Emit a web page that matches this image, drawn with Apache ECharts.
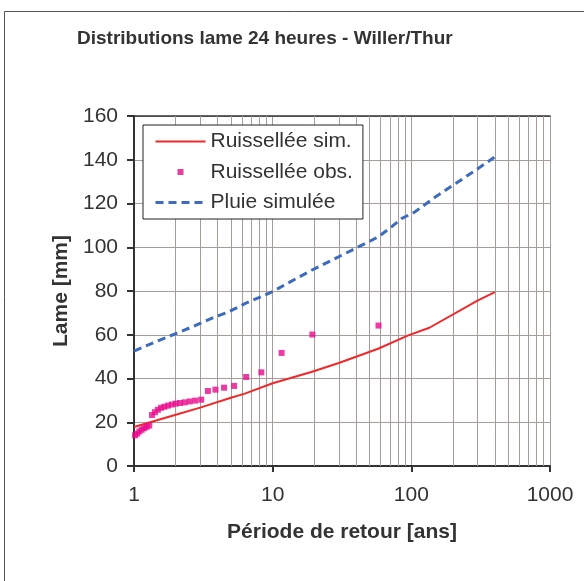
<!DOCTYPE html>
<html>
<head>
<meta charset="utf-8">
<script src="https://cdn.jsdelivr.net/npm/echarts@6/dist/echarts.min.js"></script>
<style>
html,body{margin:0;padding:0;background:#fff;}
#chart{width:584px;height:581px;}
</style>
</head>
<body>
<div id="chart"></div>
<script>
// ---- data ----
const titleText = 'Distributions lame 24 heures - Willer/Thur';
const xName = 'Période de retour [ans]';
const yName = 'Lame [mm]';
const seriesNames = ['Ruissellée sim.', 'Ruissellée obs.', 'Pluie simulée'];

// Ruissellée simulée (line)
const simT   = [1, 2, 3, 5, 6.3, 10, 19, 30, 57.6, 95, 135, 300, 400];
const simVal = [17.8, 23.4, 26.7, 31.2, 33.1, 37.8, 43, 47.1, 53.6, 59.7, 63.2, 75.6, 79.5];

// Ruissellée observée (points)
const obsT   = [58, 19.33, 11.6, 8.286, 6.444, 5.273, 4.462, 3.867, 3.412, 3.053,
                2.762, 2.522, 2.32, 2.148, 2.0, 1.871, 1.758, 1.657, 1.568, 1.487,
                1.415, 1.349, 1.289, 1.234, 1.184, 1.137, 1.094, 1.055, 1.0175];
const obsVal = [64.2, 60.1, 51.7, 42.8, 40.7, 36.6, 35.8, 34.9, 34.3, 30.3,
                29.9, 29.5, 29.1, 28.8, 28.5, 28.1, 27.6, 27.1, 26.6, 25.7,
                24.6, 23.3, 18.5, 17.9, 17.3, 16.6, 15.8, 14.8, 14.0];

// Pluie simulée (dashed line)
const pluieT   = [1, 1.42, 2, 2.6, 3.83, 4.79, 6.3, 9.8, 19.1, 37.1, 57.6, 71.9, 85, 105.8, 147, 303, 400];
const pluieVal = [52.5, 56.7, 60.5, 63.5, 68.1, 70.4, 74.2, 79.5, 89.5, 98.6, 104.7, 109.3, 113.1, 116.1, 122.7, 136, 141.3];

// axis ticks
const xMin = 1, xMax = 1000;
const yMin = 0, yMax = 160, yStep = 20;
const minorGrid = [2,3,4,5,6,7,8,9, 20,30,40,50,60,70,80,90, 200,300,400,500,600,700,800,900];

// ---- chart ----
const FONT = 'Liberation Sans, Arial, sans-serif';
const TXT = '#333';
const GRIDC = '#a89c98';
const zip = (a, b) => a.map((v, i) => [v, b[i]]);

const chart = echarts.init(document.getElementById('chart'), null, {renderer: 'canvas'});
chart.setOption({
  animation: false,
  backgroundColor: '#fff',
  textStyle: {fontFamily: FONT},
  title: {
    text: titleText, left: 77, top: 29, padding: 0,
    textStyle: {fontSize: 19, fontWeight: 'bold', color: TXT, fontFamily: FONT}
  },
  graphic: [{
    type: 'rect', silent: true, z: -10,
    shape: {x: 4.5, y: 11.5, width: 700, height: 700},
    style: {fill: null, stroke: '#555', lineWidth: 1}
  }],
  grid: {left: 134, right: 34, top: 116, bottom: 115, containLabel: false},
  legend: {
    orient: 'vertical', left: 143, top: 125,
    padding: [6, 10, 6, 11], itemGap: 9.5,
    itemWidth: 50, itemHeight: 6,
    backgroundColor: '#fff', borderColor: '#222', borderWidth: 1,
    textStyle: {fontSize: 21, color: TXT, fontFamily: FONT, lineHeight: 21},
    lineStyle: {width: 'inherit'},
    data: [
      {name: seriesNames[0], itemStyle: {opacity: 0}},
      {name: seriesNames[1], icon: 'path://M0,0L10,0L10,10L0,10Z'},
      {name: seriesNames[2], itemStyle: {opacity: 0}}
    ]
  },
  xAxis: [{
    type: 'log', logBase: 10, min: xMin, max: xMax,
    name: xName, nameLocation: 'middle', nameGap: 56,
    nameTextStyle: {fontSize: 21, fontWeight: 'bold', color: TXT, fontFamily: FONT},
    axisLine: {show: true, onZero: false, lineStyle: {color: '#333', width: 2}},
    axisTick: {show: true, length: 6, lineStyle: {color: '#333', width: 2}},
    axisLabel: {fontSize: 21, color: TXT, margin: 19, fontFamily: FONT,
                formatter: v => String(Math.round(v))},
    splitLine: {show: true, lineStyle: {color: GRIDC, width: 1}},
    minorTick: {show: false}, minorSplitLine: {show: false}
  }, {
    type: 'log', logBase: 10, min: xMin, max: xMax, position: 'top',
    axisLine: {show: true, onZero: false, lineStyle: {color: '#333', width: 1.5}},
    axisTick: {show: false}, axisLabel: {show: false}, splitLine: {show: false}
  }],
  yAxis: {
    type: 'value', min: yMin, max: yMax, interval: yStep,
    name: yName, nameLocation: 'middle', nameGap: 60,
    nameTextStyle: {fontSize: 21, fontWeight: 'bold', color: TXT, fontFamily: FONT},
    axisLine: {show: true, onZero: false, lineStyle: {color: '#333', width: 2}},
    axisTick: {show: true, length: 7, lineStyle: {color: '#333', width: 2}},
    axisLabel: {fontSize: 21, color: TXT, margin: 16, fontFamily: FONT},
    splitLine: {show: true, lineStyle: {color: GRIDC, width: 1}}
  },
  series: [{
    name: seriesNames[0], type: 'line', xAxisIndex: 0,
    data: zip(simT, simVal), symbol: 'none', showSymbol: false, z: 3,
    lineStyle: {color: '#f0282a', width: 2},
    itemStyle: {color: '#f0282a'},
    markLine: {
      silent: true, z: 1, symbol: ['none', 'none'], animation: false,
      label: {show: false}, emphasis: {disabled: true},
      lineStyle: {color: GRIDC, width: 1, type: 'solid'},
      data: minorGrid.map(v => ({xAxis: v}))
    }
  }, {
    name: seriesNames[1], type: 'scatter', xAxisIndex: 0,
    data: zip(obsT, obsVal), symbol: 'rect', symbolSize: 6, z: 4,
    itemStyle: {color: '#ea0a8c'}
  }, {
    name: seriesNames[2], type: 'line', xAxisIndex: 0,
    data: zip(pluieT, pluieVal), symbol: 'none', showSymbol: false, z: 3,
    lineStyle: {color: '#3d6bbd', width: 3, type: [8, 5]},
    itemStyle: {color: '#3d6bbd'}
  }]
});
</script>
</body>
</html>
